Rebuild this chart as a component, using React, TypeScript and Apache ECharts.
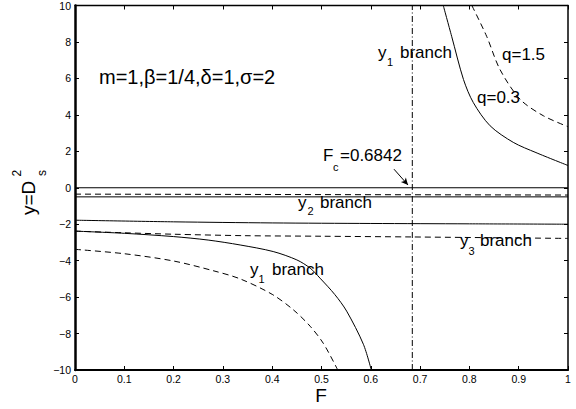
import React, { useEffect, useRef } from "react";
import * as echarts from "echarts";

// Critical force
const F_C = 0.6842;

// Axis ticks
const X_MIN = 0;
const X_MAX = 1;
const X_STEP = 0.1;
const Y_MIN = -10;
const Y_MAX = 10;
const Y_STEP = 2;

// y1 branch, q = 0.3 (solid) and q = 1.5 (dashed), right of F_c
const y1UpperQ03: number[][] = [
  [0.747, 10], [0.764, 8.31], [0.788, 5.94], [0.808, 4.67], [0.842, 3.4],
  [0.889, 2.49], [0.935, 1.93], [1, 1.22],
];
const y1UpperQ15: number[][] = [
  [0.805, 10], [0.835, 8.31], [0.862, 6.49], [0.903, 4.85], [0.95, 3.95], [1, 3.35],
];

// y1 branch, left of F_c
const y1LowerQ03: number[][] = [
  [0, -2.38], [0.1, -2.5], [0.2, -2.68], [0.27, -2.87], [0.335, -3.14],
  [0.402, -3.5], [0.45, -3.96], [0.477, -4.41], [0.497, -4.96], [0.527, -5.86],
  [0.551, -6.77], [0.585, -8.59], [0.601, -10],
];
const y1LowerQ15: number[][] = [
  [0, -3.38], [0.1, -3.62], [0.2, -4.02], [0.28, -4.55], [0.335, -5.0],
  [0.4, -5.85], [0.443, -6.7], [0.477, -7.6], [0.504, -8.55], [0.533, -10],
];

// y2 branch
const y2Top: number[][] = [[0, 0], [1, 0]];
const y2TopQ15: number[][] = [[0, -0.35], [1, -0.4]];
const y2Mid: number[][] = [[0, -0.5], [1, -0.5]];
const y2Low: number[][] = [
  [0, -1.78], [0.2, -1.87], [0.4, -1.93], [0.6, -1.96], [0.8, -1.98], [1, -2.0],
];

// y3 branch
const y3Q15: number[][] = [
  [0, -2.38], [0.1, -2.47], [0.2, -2.55], [0.345, -2.63], [0.5, -2.66],
  [0.684, -2.7], [1, -2.78],
];

// F_c marker line and arrow pointing at it
const fcLine: number[][] = [[F_C, Y_MIN], [F_C, Y_MAX]];
const fcArrow: number[][] = [[0.647, 1.02], [0.6755, 0.15]];

const FONT = '"Liberation Sans", Arial, Helvetica, sans-serif';
const DASH = [6, 4];
const DASH_DOT = [6, 2.5, 1, 2.5];

const txt = (
  text: string,
  x: number,
  y: number,
  size: number,
  align: string = "left"
) => ({
  type: "text",
  x,
  y,
  silent: true,
  style: {
    text,
    font: `${size}px ${FONT}`,
    fill: "#000",
    align,
    verticalAlign: "middle",
    textAlign: align,
    textVerticalAlign: "middle",
  },
});

const curve = (data: number[][], dashed: boolean, smooth = true) => ({
  type: "line",
  data,
  symbol: "none",
  smooth: smooth ? 0.3 : false,
  clip: true,
  silent: true,
  lineStyle: { color: "#000", width: 1, type: dashed ? DASH : "solid" },
});

export default function App() {
  const ref = useRef<HTMLDivElement>(null);

  useEffect(() => {
    if (!ref.current) return;
    const chart = echarts.init(ref.current, undefined, { renderer: "svg" });

    const xFmt = (v: number) =>
      v === 0 ? "0" : v === 1 ? "1" : v.toFixed(1);
    const yFmt = (v: number) => (v < 0 ? "\u2212" + Math.abs(v) : String(v));

    const tick = { show: true, inside: true, length: 4, lineStyle: { color: "#000", width: 1 } };
    const baseX = {
      type: "value",
      min: X_MIN,
      max: X_MAX,
      interval: X_STEP,
      splitLine: { show: false },
      axisTick: tick,
    };
    const baseY = {
      type: "value",
      min: Y_MIN,
      max: Y_MAX,
      interval: Y_STEP,
      splitLine: { show: false },
      axisTick: tick,
    };

    chart.setOption({
      animation: false,
      grid: { left: 75, right: 8, top: 3, bottom: 39 },
      xAxis: [
        {
          ...baseX,
          position: "bottom",
          axisLine: { onZero: false, lineStyle: { color: "#000", width: 2 } },
          axisLabel: {
            formatter: xFmt,
            color: "#000",
            fontSize: 10.5,
            fontFamily: FONT,
            margin: 3,
          },
        },
        {
          ...baseX,
          position: "top",
          axisLine: { onZero: false, lineStyle: { color: "#000", width: 1.3 } },
          axisLabel: { show: false },
        },
      ],
      yAxis: [
        {
          ...baseY,
          position: "left",
          axisLine: { onZero: false, lineStyle: { color: "#000", width: 2.5 } },
          axisLabel: {
            formatter: yFmt,
            color: "#000",
            fontSize: 10.5,
            fontFamily: FONT,
            margin: 4,
          },
        },
        {
          ...baseY,
          position: "right",
          axisLine: { onZero: false, lineStyle: { color: "#000", width: 1.5 } },
          axisLabel: { show: false },
        },
      ],
      series: [
        curve(y1UpperQ03, false),
        curve(y1UpperQ15, true),
        curve(y1LowerQ03, false),
        curve(y1LowerQ15, true),
        curve(y2Top, false, false),
        curve(y2TopQ15, true, false),
        curve(y2Mid, false, false),
        curve(y2Low, false),
        curve(y3Q15, true),
        {
          type: "line",
          data: fcLine,
          symbol: "none",
          silent: true,
          lineStyle: { color: "#000", width: 1, type: DASH_DOT },
          markLine: {
            silent: true,
            symbol: ["none", "arrow"],
            symbolSize: [5, 7],
            label: { show: false },
            lineStyle: { color: "#000", width: 1, type: "solid" },
            data: [[{ coord: fcArrow[0] }, { coord: fcArrow[1] }]],
          },
        },
      ],
      graphic: [
        // parameters
        txt("m=1,\u03b2=1/4,\u03b4=1,\u03c3=2", 99, 77, 20),
        // upper y1 branch
        txt("y", 378, 52.4, 17),
        txt("1", 387, 61.5, 11),
        txt("branch", 400, 52.4, 17),
        txt("q=1.5", 502, 54.6, 17),
        txt("q=0.3", 477, 97, 17),
        // F_c label
        txt("F", 323, 155.8, 17),
        txt("c", 333, 166.5, 11),
        txt("=0.6842", 340, 155.8, 17),
        // y2 branch
        txt("y", 298, 202.4, 17),
        txt("2", 307.5, 211, 11),
        txt("branch", 320, 202.4, 17),
        // y3 branch
        txt("y", 460, 240, 17),
        txt("3", 468.5, 251, 11),
        txt("branch", 480, 240, 17),
        // lower y1 branch
        txt("y", 250, 269.1, 17),
        txt("1", 258.5, 279, 11),
        txt("branch", 272, 269.1, 17),
        // x-axis title
        txt("F", 321, 395, 19, "center"),
        // y-axis title, written bottom-to-top; local x runs up the page,
        // local y runs to the right
        {
          type: "group",
          x: 35,
          y: 215,
          rotation: Math.PI / 2,
          silent: true,
          children: [
            txt("y=D", 0, -6.6, 19),
            txt("2", 38.5, -18.5, 12),
            txt("s", 39, 6.5, 12),
          ],
        },
      ],
    });

    return () => chart.dispose();
  }, []);

  return (
    <div
      ref={ref}
      style={{ position: "absolute", left: 0, top: 0, width: 576, height: 409, background: "#fff" }}
    />
  );
}
